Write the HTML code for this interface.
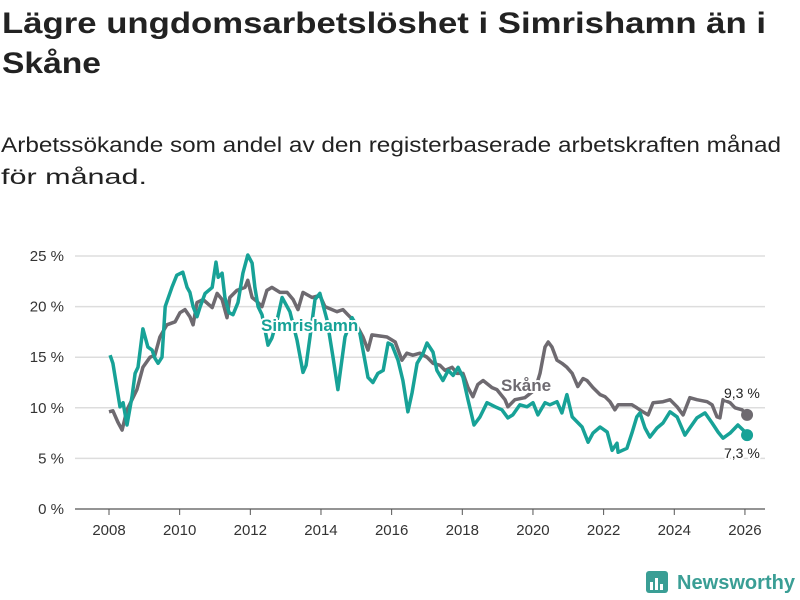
<!DOCTYPE html>
<html><head><meta charset="utf-8"><style>
body{margin:0;background:#fff;}
svg{display:block;font-family:"Liberation Sans","DejaVu Sans",sans-serif;}
</style></head><body>
<svg id="chart" width="800" height="600" viewBox="0 0 800 600" xmlns="http://www.w3.org/2000/svg">
<text x="2" y="33" font-size="30" font-weight="bold" fill="#222" textLength="764" lengthAdjust="spacingAndGlyphs">Lägre ungdomsarbetslöshet i Simrishamn än i</text>
<text x="2" y="73" font-size="30" font-weight="bold" fill="#222" textLength="99" lengthAdjust="spacingAndGlyphs">Skåne</text>
<text x="1" y="152" font-size="21" fill="#222" textLength="780" lengthAdjust="spacingAndGlyphs">Arbetssökande som andel av den registerbaserade arbetskraften månad</text>
<text x="1" y="184" font-size="21" fill="#222" textLength="146" lengthAdjust="spacingAndGlyphs">för månad.</text>
<g id="grid"></g><g id="xaxis"></g><g id="lines"></g><g id="labels"></g>
<g>
<rect x="646" y="571" width="22" height="22" rx="3" fill="#3a9e95"/>
<rect x="650" y="582" width="3" height="8" fill="#fff"/><rect x="655" y="578" width="3" height="12" fill="#fff"/><rect x="660" y="584" width="3" height="6" fill="#fff"/>
<text x="677" y="589" font-size="20" font-weight="bold" fill="#3a9e95" textLength="118" lengthAdjust="spacingAndGlyphs">Newsworthy</text>
</g>
</svg>
<script>
const yTicks=[0,5,10,15,20,25];
const yTickLabels=["0 %","5 %","10 %","15 %","20 %","25 %"];
const xTicks=[2008,2010,2012,2014,2016,2018,2020,2022,2024,2026];
const simT=[0.03,0.11,0.31,0.40,0.51,0.65,0.74,0.82,0.96,1.10,1.22,1.30,1.39,1.50,1.59,1.78,1.92,2.09,2.21,2.29,2.38,2.49,2.58,2.72,2.92,3.03,3.09,3.20,3.28,3.40,3.51,3.65,3.79,3.93,4.05,4.13,4.22,4.33,4.50,4.61,4.76,4.90,5.12,5.32,5.49,5.58,5.69,5.83,5.97,6.17,6.34,6.48,6.68,6.88,7.10,7.33,7.47,7.61,7.76,7.90,8.01,8.18,8.32,8.46,8.58,8.72,8.89,9.00,9.17,9.28,9.45,9.60,9.74,9.88,10.02,10.16,10.33,10.50,10.70,10.93,11.12,11.29,11.43,11.63,11.83,12.00,12.14,12.34,12.48,12.68,12.82,12.96,13.11,13.39,13.56,13.70,13.90,14.10,14.24,14.38,14.41,14.66,14.80,14.94,15.03,15.17,15.31,15.51,15.68,15.88,16.08,16.30,16.44,16.64,16.87,17.07,17.24,17.38,17.58,17.80,17.95,18.06];
const simV=[15.2,14.4,10.1,10.5,8.3,11.1,13.4,14.0,17.8,16.0,15.7,14.9,14.4,15.0,20.0,21.9,23.1,23.4,21.9,21.4,20.0,19.0,20.0,21.3,21.9,24.4,22.9,23.3,20.9,19.4,19.2,20.4,23.3,25.1,24.3,21.9,20.0,19.2,16.2,16.9,18.7,20.9,19.5,16.7,13.5,14.2,17.0,20.7,21.3,18.7,15.0,11.8,17.0,18.9,17.4,13.0,12.5,13.4,13.7,16.4,16.2,14.7,12.7,9.6,11.5,14.4,15.4,16.4,15.5,13.7,12.7,13.7,13.2,14.0,13.0,10.8,8.3,9.1,10.5,10.1,9.8,9.0,9.3,10.3,10.1,10.5,9.3,10.5,10.3,10.6,9.5,11.3,9.1,8.1,6.6,7.5,8.1,7.6,5.8,6.5,5.6,6.0,7.5,9.1,9.5,8.0,7.1,8.0,8.5,9.6,9.1,7.3,8.0,9.0,9.5,8.5,7.6,7.0,7.5,8.3,7.8,7.3];
const skaT=[0,0.11,0.25,0.37,0.51,0.65,0.79,0.96,1.16,1.30,1.44,1.64,1.87,2.01,2.15,2.29,2.38,2.49,2.66,2.92,3.06,3.20,3.34,3.42,3.62,3.85,3.93,4.05,4.19,4.33,4.47,4.61,4.84,5.04,5.21,5.35,5.49,5.75,5.97,6.11,6.45,6.62,6.76,6.96,7.19,7.33,7.44,7.87,8.10,8.29,8.43,8.60,8.80,9.00,9.17,9.37,9.51,9.71,9.85,10.02,10.16,10.30,10.44,10.59,10.73,10.84,10.98,11.21,11.29,11.49,11.77,12.06,12.20,12.34,12.43,12.54,12.68,12.82,12.96,13.11,13.27,13.42,13.53,13.70,13.90,14.04,14.18,14.32,14.41,14.66,14.80,14.94,15.11,15.26,15.40,15.68,15.88,16.08,16.25,16.44,16.64,16.93,17.07,17.21,17.29,17.38,17.58,17.72,17.92,18.06];
const skaV=[9.6,9.7,8.6,7.8,9.8,10.8,11.8,14.0,15.0,15.2,17.0,18.2,18.5,19.4,19.7,19.0,18.2,20.4,20.7,19.9,21.3,20.7,18.9,20.9,21.6,21.9,22.6,20.9,20.5,20.0,21.6,21.9,21.4,21.4,20.7,19.7,21.4,20.9,21.1,20.0,19.5,19.7,19.2,18.5,17.0,15.7,17.2,17.0,16.5,14.7,15.4,15.2,15.4,15.0,14.4,14.2,13.7,14.0,13.4,13.4,12.0,11.1,12.3,12.7,12.3,12.0,11.8,10.8,10.1,10.8,11.0,11.8,13.4,16.0,16.5,16.0,14.7,14.4,14.0,13.4,12.1,12.9,12.7,12.0,11.3,11.1,10.6,9.8,10.3,10.3,10.3,10.0,9.6,9.3,10.5,10.6,10.8,10.1,9.3,11.0,10.8,10.6,10.3,9.1,9.0,10.8,10.5,10.0,9.8,9.3];
const lastSka="9,3 %", lastSim="7,3 %";
const NS="http://www.w3.org/2000/svg";
const X=t=>109+t*35.33, Xy=y=>X(y-2008), Y=v=>509-v*10.12;
function el(tag,attrs,parent){const e=document.createElementNS(NS,tag);for(const k in attrs)e.setAttribute(k,attrs[k]);parent.appendChild(e);return e;}
const grid=document.getElementById('grid'),xa=document.getElementById('xaxis'),ln=document.getElementById('lines'),lb=document.getElementById('labels');
yTicks.forEach((v,i)=>{
 const g=el('line',{x1:75,x2:765,y1:Y(v),y2:Y(v),stroke:v===0?'#555':'#ddd','stroke-width':v===0?1.2:1.5},grid);
 
 
 const t=el('text',{x:64,y:Y(v)+5,'font-size':15,fill:'#333','text-anchor':'end'},grid);
 t.textContent=yTickLabels[i];
 
 
});
xTicks.forEach(y=>{
 const tk=el('line',{x1:Xy(y),x2:Xy(y),y1:509,y2:515,stroke:'#555'},xa);
 
 
 const t=el('text',{x:Xy(y),y:535,'font-size':15,fill:'#333','text-anchor':'middle'},xa);
 t.textContent=y;
 
 
});
function path(T,V){return T.map((t,i)=>(i?'L':'M')+X(t).toFixed(1)+','+Y(V[i]).toFixed(1)).join('');}
const pg=el('path',{d:path(skaT,skaV),fill:'none',stroke:'#6e6a70','stroke-width':3.5,'stroke-linejoin':'round'},ln);


const pt=el('path',{d:path(simT,simV),fill:'none',stroke:'#17a297','stroke-width':3.5,'stroke-linejoin':'round'},ln);


const n1=skaT.length-1,n2=simT.length-1;
const d1=el('circle',{cx:X(skaT[n1]),cy:Y(skaV[n1]),r:6,fill:'#6e6a70'},ln);


const d2=el('circle',{cx:X(simT[n2]),cy:Y(simV[n2]),r:6,fill:'#17a297'},ln);


function label(txt,x,y,fs,fw,col,name){const t=el('text',{x:x,y:y,'font-size':fs,'font-weight':fw,fill:col,stroke:'#fff','stroke-width':4,'paint-order':'stroke','stroke-linejoin':'round'},lb);t.textContent=txt;return t;}
label('Simrishamn',261,331,17,'bold','#17a297','simrishamn-series-label');
label('Skåne',501,391,17,'bold','#6e6a70','skane-series-label');
label(lastSka,724,398,14,'normal','#222','skane-last-value');
label(lastSim,724,458,14,'normal','#222','simrishamn-last-value');
</script>
</body></html>
